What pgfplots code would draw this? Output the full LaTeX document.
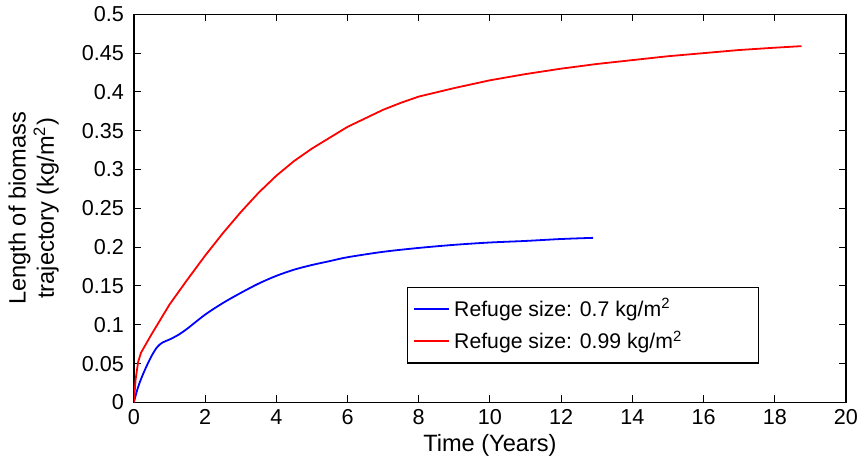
\documentclass[border=0pt]{standalone}
\usepackage{pgfplots}
\pgfplotsset{compat=1.18}
\usepackage{fontspec}
\setmainfont{Liberation Sans}
\begin{document}
\begin{tikzpicture}
\begin{axis}[
  scale only axis,
  width=356pt, height=194pt,
  xmin=0, xmax=20, ymin=0, ymax=0.5,
  xtick={0,2,...,20},
  ytick={0,0.05,0.1,0.15,0.2,0.25,0.3,0.35,0.4,0.45,0.5},
  yticklabels={0,0.05,0.1,0.15,0.2,0.25,0.3,0.35,0.4,0.45,0.5},
  tick align=inside,
  major tick length=3.5pt,
  axis line style={line width=0.7pt},
  tick style={black, line width=0.5pt},
  /pgf/number format/assume math mode=true,
  tick label style={font=\fontsize{10.8}{12}\selectfont},
  xticklabel style={inner xsep=1pt},
  yticklabel style={xshift=-1.5pt},
  label style={font=\fontsize{11.8}{13.5}\selectfont},
  xlabel={Time (Years)},
  ylabel={\begin{tabular}{c}Length of biomass\\trajectory (kg/m\textsuperscript{2})\end{tabular}},
  ylabel style={yshift=3pt},
  xlabel style={yshift=2pt},
  legend style={at={(rel axis cs:0.383,0.1)}, anchor=south west, draw=black, line width=0.6pt,
    font=\fontsize{10.6}{12}\selectfont, inner xsep=3pt, inner ysep=3.5pt, row sep=1.5pt, /tikz/every even column/.append style={column sep=4pt}},
  legend cell align=left,
  legend image code/.code={\draw[#1, line width=1pt] (0cm,0cm) -- (17.5pt,0cm);},
]
\addplot[blue, line width=0.9pt, smooth] coordinates {
(0,0) (0.1,0.017) (0.2,0.03) (0.35,0.046) (0.5,0.06) (0.65,0.071) (0.8,0.077) (1,0.081) (1.25,0.087) (1.5,0.095) (2,0.113) (2.5,0.128) (3,0.141) (3.5,0.153) (4,0.163) (4.5,0.171) (5,0.177) (5.5,0.182) (6,0.187) (7,0.194) (8,0.199) (9,0.203) (10,0.206) (11,0.208) (12,0.2105) (12.9,0.212)
};
\addlegendentry{Refuge size: 0.7 kg/m\textsuperscript{2}}
\addplot[red, line width=0.9pt] coordinates {
(0,0) (0.05,0.03) (0.12,0.052) (0.2,0.064) (0.3,0.072) (0.5,0.088) (0.75,0.107) (1,0.126) (1.5,0.158) (2,0.189) (2.5,0.218) (3,0.245) (3.5,0.27) (4,0.292) (4.5,0.311) (5,0.327) (5.5,0.341) (6,0.355) (6.5,0.366) (7,0.377) (7.5,0.386) (8,0.394) (9,0.405) (10,0.415) (11,0.423) (12,0.43) (13,0.436) (14,0.441) (15,0.446) (16,0.45) (17,0.454) (18,0.457) (18.75,0.459)
};
\addlegendentry{Refuge size: 0.99 kg/m\textsuperscript{2}\hspace*{33pt}}
\end{axis}
\end{tikzpicture}
\end{document}
